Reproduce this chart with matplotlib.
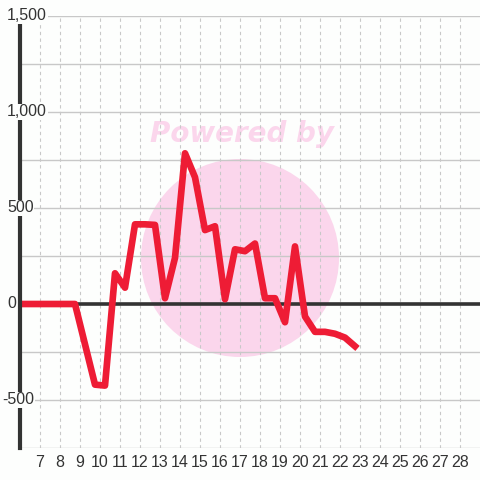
#!/usr/bin/env python3
"""Line chart with zero baseline and pink watermark."""

import matplotlib
matplotlib.use("Agg")
import matplotlib.pyplot as plt
from matplotlib.patches import Circle
from matplotlib.transforms import blended_transform_factory

X_VALUES = [6.25, 6.75, 7.25, 7.75, 8.25, 8.75, 9.25, 9.75, 10.25, 10.75,
            11.25, 11.75, 12.25, 12.75, 13.25, 13.75, 14.25, 14.75, 15.25,
            15.75, 16.25, 16.75, 17.25, 17.75, 18.25, 18.75, 19.25, 19.75,
            20.25, 20.75, 21.25, 21.75, 22.25, 22.75]
Y_VALUES = [0, 0, 0, 0, 0, 0, -210, -420, -425, 160,
            85, 415, 415, 412, 30, 240, 785, 660, 385,
            405, 25, 285, 275, 315, 30, 30, -95, 300,
            -65, -145, -145, -155, -175, -220]

X_TICKS = list(range(7, 29))
Y_LABEL_TICKS = [1500, 1000, 500, 0, -500]
Y_LABELS = ["1,500", "1,000", "500", "0", "-500"]
Y_GRID = [1500, 1250, 1000, 750, 500, 250, 0, -250, -500, -750]

BG = "#fdfefd"
TEXT = "#333333"
PINK = "#fbd6ec"

plt.rcParams["font.family"] = ["Liberation Sans", "DejaVu Sans"]

fig = plt.figure(figsize=(4.8, 4.8), dpi=100, facecolor=BG)

# watermark behind the axes
fig.add_artist(Circle((240 / 480, 222 / 480), 99 / 480, transform=fig.transFigure,
                      facecolor=PINK, edgecolor="none", zorder=0.5))
fig.text(242 / 480, 1 - 134 / 480, "Powered by", ha="center", va="center",
         fontsize=20, fontweight="bold", style="italic", color=PINK,
         family="DejaVu Sans", zorder=0.6)

ax = fig.add_axes([20 / 480, 32 / 480, 460 / 480, 432 / 480])
ax.set_zorder(1)
ax.patch.set_alpha(0)
ax.set_xlim(6, 29)
ax.set_ylim(-750, 1500)

for y in Y_GRID:
    ax.axhline(y, color="#c8c8c8", linewidth=1.0, zorder=1)
for x in X_TICKS:
    ax.axvline(x, color="#c8c8c8", linewidth=0.8, linestyle=(0, (3, 3)), zorder=1)
ax.axhline(0, color="#333333", linewidth=2.6, zorder=2)

ax.plot(X_VALUES, Y_VALUES, color="#ee1c35", linewidth=4.8,
        solid_joinstyle="round", zorder=3)

for spine in ["top", "right", "bottom"]:
    ax.spines[spine].set_visible(False)
ax.spines["left"].set_color("#333333")
ax.spines["left"].set_linewidth(3)
ax.spines["left"].set_bounds(-750, 1460)
ax.spines["left"].set_zorder(4)

ax.set_yticks([])
ax.set_xticks(X_TICKS)
ax.set_xticklabels([str(v) for v in X_TICKS], fontsize=11.5, color=TEXT)
ax.tick_params(axis="x", length=0, pad=5)

trans = blended_transform_factory(ax.transAxes, ax.transData)
for y, label in zip(Y_LABEL_TICKS, Y_LABELS):
    x0 = -13 / 460 if not label.startswith("-") else -18 / 460
    ax.text(x0, y, label, transform=trans, ha="left", va="center",
            fontsize=11.5, color=TEXT, zorder=5, clip_on=False,
            bbox=dict(facecolor=BG, edgecolor="none", pad=0.5))

fig.savefig("out.png", dpi=100, facecolor=BG)
